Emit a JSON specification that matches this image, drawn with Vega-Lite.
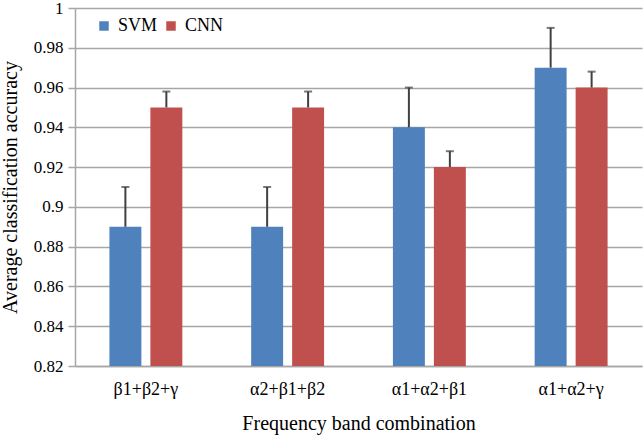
{
  "$schema": "https://vega.github.io/schema/vega-lite/v6.json",
  "width": 567,
  "height": 358,
  "autosize": {"type": "none"},
  "padding": {"left": 75, "top": 8, "right": 2, "bottom": 70},
  "background": "white",
  "config": {
    "font": "'Liberation Serif', 'DejaVu Serif', serif",
    "view": {"stroke": null},
    "axisY": {
      "titleFontSize": 20,
      "titleFontWeight": "normal",
      "titleColor": "black",
      "titlePadding": 13,
      "labelFontSize": 17,
      "labelColor": "black",
      "labelPadding": 5,
      "labelOverlap": false,
      "tickColor": "#a6a6a6",
      "tickSize": 7,
      "tickWidth": 1.5,
      "domainColor": "#a6a6a6",
      "domainWidth": 1.5,
      "grid": true,
      "gridColor": "#a6a6a6",
      "gridWidth": 1.5
    },
    "axisX": {
      "titleFontSize": 20,
      "titleFontWeight": "normal",
      "titleColor": "black",
      "labelFontSize": 18,
      "labelColor": "black"
    },
    "legend": {"labelFontSize": 18, "labelColor": "black"}
  },
  "data": {
    "values": [
      {"band": "β1+β2+γ", "model": "SVM", "acc": 0.89, "upper": 0.91},
      {"band": "β1+β2+γ", "model": "CNN", "acc": 0.95, "upper": 0.958},
      {"band": "α2+β1+β2", "model": "SVM", "acc": 0.89, "upper": 0.91},
      {"band": "α2+β1+β2", "model": "CNN", "acc": 0.95, "upper": 0.958},
      {"band": "α1+α2+β1", "model": "SVM", "acc": 0.94, "upper": 0.96},
      {"band": "α1+α2+β1", "model": "CNN", "acc": 0.92, "upper": 0.928},
      {"band": "α1+α2+γ", "model": "SVM", "acc": 0.97, "upper": 0.99},
      {"band": "α1+α2+γ", "model": "CNN", "acc": 0.96, "upper": 0.968}
    ]
  },
  "encoding": {
    "x": {
      "field": "band",
      "type": "nominal",
      "sort": null,
      "scale": {"paddingInner": 0, "paddingOuter": 0},
      "axis": {
        "title": "Frequency band combination",
        "titlePadding": 15,
        "labelAngle": 0,
        "labelPadding": 14,
        "ticks": false,
        "domainColor": "#a6a6a6",
        "domainWidth": 1.5,
        "grid": false
      }
    },
    "xOffset": {
      "field": "model",
      "sort": ["SVM", "CNN"],
      "scale": {"paddingInner": 0.22, "paddingOuter": 0.84}
    },
    "y": {
      "field": "acc",
      "type": "quantitative",
      "scale": {"domain": [0.82, 1], "zero": false, "nice": false},
      "axis": {
        "title": "Average classification accuracy",
        "values": [0.82, 0.84, 0.86, 0.88, 0.9, 0.92, 0.94, 0.96, 0.98, 1],
        "labelExpr": "format(datum.value, '.2~f')"
      }
    }
  },
  "layer": [
    {
      "mark": {"type": "bar"},
      "encoding": {
        "y2": {"datum": 0.82},
        "color": {
          "field": "model",
          "type": "nominal",
          "sort": ["SVM", "CNN"],
          "scale": {"domain": ["SVM", "CNN"], "range": ["#4F81BD", "#C0504D"]},
          "legend": {
            "title": null,
            "orient": "none",
            "direction": "horizontal",
            "legendX": 20,
            "legendY": 9,
            "symbolType": "square",
            "symbolSize": 90,
            "symbolStrokeWidth": 0,
            "labelOffset": 5,
            "columnPadding": 4
          }
        }
      }
    },
    {
      "mark": {"type": "rule", "color": "#404040", "strokeWidth": 2},
      "encoding": {
        "y2": {"field": "upper"}
      }
    },
    {
      "mark": {"type": "tick", "color": "#404040", "thickness": 2, "size": 8, "orient": "horizontal"},
      "encoding": {
        "y": {
          "field": "upper",
          "type": "quantitative",
          "axis": {
            "title": "Average classification accuracy",
            "values": [0.82, 0.84, 0.86, 0.88, 0.9, 0.92, 0.94, 0.96, 0.98, 1],
            "labelExpr": "format(datum.value, '.2~f')"
          }
        }
      }
    }
  ]
}
